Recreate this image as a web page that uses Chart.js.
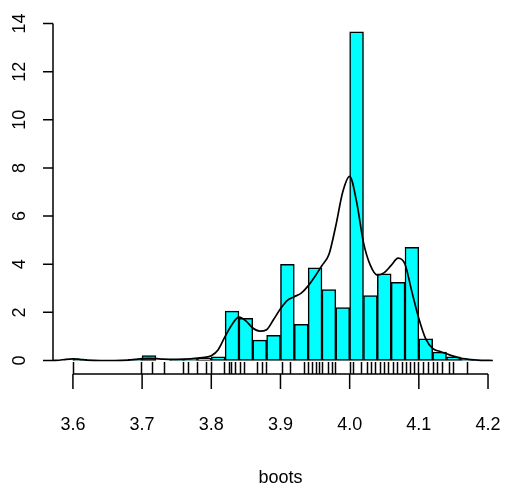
<!DOCTYPE html>
<html lang="en">
<head>
    <meta charset="UTF-8">
    <title>boots histogram</title>
    <script src="https://cdn.jsdelivr.net/npm/chart.js"></script>
    <style>
        body { margin: 0; background: #fff; }
        #wrap { width: 506px; height: 486px; }
    </style>
</head>
<body>
    <div id="wrap"><canvas id="histChart" width="506" height="486"></canvas></div>
    <script>
        // histogram bins (left edges, width 0.02) and their densities
        const binStarts = [3.60, 3.62, 3.64, 3.66, 3.68, 3.70, 3.72, 3.74, 3.76, 3.78,
                           3.80, 3.82, 3.84, 3.86, 3.88, 3.90, 3.92, 3.94, 3.96, 3.98,
                           4.00, 4.02, 4.04, 4.06, 4.08, 4.10, 4.12, 4.14, 4.16];
        const binDensity = [0.05, 0, 0, 0, 0.05, 0.2, 0, 0.05, 0.05, 0.1,
                            0.15, 2.05, 1.75, 0.85, 1.05, 4.0, 1.5, 3.85, 2.95, 2.2,
                            13.65, 2.7, 3.6, 3.25, 4.7, 0.9, 0.35, 0.15, 0.05];
        const binWidth = 0.02;

        // kernel density curve
        const densX = [3.571, 3.58, 3.59, 3.60, 3.61, 3.62, 3.64, 3.66, 3.68, 3.69,
                       3.70, 3.71, 3.72, 3.73, 3.75, 3.77, 3.78, 3.79, 3.80, 3.81,
                       3.82, 3.83, 3.84, 3.85, 3.86, 3.87, 3.88, 3.89, 3.90, 3.91,
                       3.92, 3.93, 3.94, 3.95, 3.96, 3.97, 3.98, 3.99, 4.00, 4.01,
                       4.02, 4.03, 4.04, 4.05, 4.06, 4.07, 4.08, 4.09, 4.10, 4.11,
                       4.12, 4.13, 4.14, 4.15, 4.16, 4.17, 4.18, 4.19, 4.207];
        const densY = [0, 0.01, 0.05, 0.07, 0.05, 0.02, 0, 0, 0.02, 0.05,
                       0.08, 0.09, 0.08, 0.06, 0.05, 0.07, 0.1, 0.13, 0.2, 0.45,
                       1.0, 1.5, 1.8, 1.65, 1.35, 1.22, 1.28, 1.7, 2.15, 2.5,
                       2.65, 2.8, 3.1, 3.5, 3.95, 4.4, 5.6, 7.0, 7.65, 6.6,
                       4.9, 3.95, 3.55, 3.65, 3.95, 4.25, 4.0, 2.85, 1.75, 0.9,
                       0.5, 0.38, 0.28, 0.18, 0.1, 0.06, 0.03, 0.01, 0];

        // rug positions
        const rugValues = [3.600, 3.698, 3.715, 3.732, 3.759, 3.766, 3.780, 3.792, 3.799,
                           3.819, 3.825, 3.829, 3.834, 3.841, 3.848, 3.866, 3.873, 3.879,
                           3.902, 3.914, 3.934, 3.940, 3.946, 3.951, 3.956, 3.960, 3.968,
                           3.974, 3.979, 4.000, 4.005, 4.017, 4.025, 4.031, 4.037, 4.044,
                           4.050, 4.056, 4.062, 4.068, 4.075, 4.081, 4.087, 4.093, 4.099,
                           4.106, 4.113, 4.120, 4.126, 4.134, 4.143, 4.150, 4.169];

        const xTicks = [3.6, 3.7, 3.8, 3.9, 4.0, 4.1, 4.2];
        const yTicks = [0, 2, 4, 6, 8, 10, 12, 14];
        const xTitle = 'boots';

        const FONT = '18px "Liberation Sans", Arial, sans-serif';

        // R style axes + rug, drawn with the chart's scales
        const baseAxes = {
            id: 'baseAxes',
            afterDatasetsDraw(chart) {
                const { ctx, chartArea: area, scales: { x, y } } = chart;
                ctx.save();
                ctx.strokeStyle = '#000';
                ctx.fillStyle = '#000';
                ctx.lineWidth = 1.5;
                ctx.font = FONT;

                // rug
                rugValues.forEach(v => {
                    const px = Math.round(x.getPixelForValue(v)) + 0.5;
                    ctx.beginPath();
                    ctx.moveTo(px, area.bottom);
                    ctx.lineTo(px, area.bottom - 12);
                    ctx.stroke();
                });

                // x axis
                const xa = x.getPixelForValue(xTicks[0]);
                const xb = x.getPixelForValue(xTicks[xTicks.length - 1]);
                ctx.beginPath();
                ctx.moveTo(xa, area.bottom);
                ctx.lineTo(xb, area.bottom);
                xTicks.forEach(t => {
                    const px = x.getPixelForValue(t);
                    ctx.moveTo(px, area.bottom);
                    ctx.lineTo(px, area.bottom + 15);
                });
                ctx.stroke();
                ctx.textAlign = 'center';
                ctx.textBaseline = 'middle';
                xTicks.forEach(t => {
                    ctx.fillText(t.toFixed(1), x.getPixelForValue(t), area.bottom + 51);
                });
                ctx.fillText(xTitle, (xa + xb) / 2, area.bottom + 104);

                // y axis
                const ya = y.getPixelForValue(yTicks[0]);
                const yb = y.getPixelForValue(yTicks[yTicks.length - 1]);
                ctx.beginPath();
                ctx.moveTo(area.left, ya);
                ctx.lineTo(area.left, yb);
                yTicks.forEach(t => {
                    const py = y.getPixelForValue(t);
                    ctx.moveTo(area.left, py);
                    ctx.lineTo(area.left - 10, py);
                });
                ctx.stroke();
                yTicks.forEach(t => {
                    ctx.save();
                    ctx.translate(area.left - 33, y.getPixelForValue(t));
                    ctx.rotate(-Math.PI / 2);
                    ctx.fillText(String(t), 0, 0);
                    ctx.restore();
                });
                ctx.restore();
            }
        };

        const ctx = document.getElementById('histChart').getContext('2d');
        const histChart = new Chart(ctx, {
            type: 'bar',
            data: {
                datasets: [{
                    type: 'line',
                    data: densX.map((v, i) => ({ x: v, y: densY[i] })),
                    borderColor: '#000',
                    borderWidth: 1.7,
                    pointRadius: 0,
                    cubicInterpolationMode: 'monotone',
                    fill: false,
                    order: 0
                }, {
                    data: binStarts.map((s, i) => ({ x: s + binWidth / 2, y: binDensity[i] })),
                    backgroundColor: '#00FFFF',
                    borderColor: '#000',
                    borderWidth: 1.5,
                    borderSkipped: false,
                    barPercentage: 1,
                    categoryPercentage: 1,
                    order: 1
                }]
            },
            options: {
                responsive: false,
                animation: false,
                layout: { padding: { left: 53, right: 13, top: 10, bottom: 112 } },
                plugins: {
                    legend: { display: false },
                    tooltip: { enabled: false }
                },
                scales: {
                    x: { type: 'linear', min: 3.5712, max: 4.2072, offset: false, display: false },
                    y: { min: -0.56, max: 14.56, display: false }
                }
            },
            plugins: [baseAxes]
        });
    </script>
</body>
</html>
